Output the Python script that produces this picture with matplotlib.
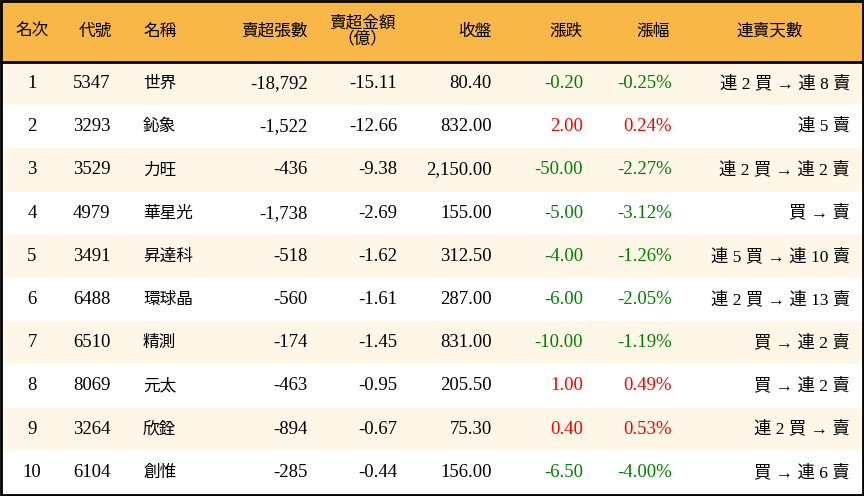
import matplotlib.pyplot as plt
from matplotlib.patches import Rectangle

rank = [1, 2, 3, 4, 5, 6, 7, 8, 9, 10]
codes = ["5347", "3293", "3529", "4979", "3491", "6488", "6510", "8069", "3264", "6104"]
names = ["世界", "鈊象", "力旺", "華星光", "昇達科", "環球晶", "精測", "元太", "欣銓", "創惟"]
net_sell = ["-18,792", "-1,522", "-436", "-1,738", "-518", "-560", "-174", "-463", "-894", "-285"]
amount = ["-15.11", "-12.66", "-9.38", "-2.69", "-1.62", "-1.61", "-1.45", "-0.95", "-0.67", "-0.44"]
close = ["80.40", "832.00", "2,150.00", "155.00", "312.50", "287.00", "831.00", "205.50", "75.30", "156.00"]
change = [-0.20, 2.00, -50.00, -5.00, -4.00, -6.00, -10.00, 1.00, 0.40, -6.50]
pct = [-0.25, 0.24, -2.27, -3.12, -1.26, -2.05, -1.19, 0.49, 0.53, -4.00]
streak = ["連 2 買 → 連 8 賣", "連 5 賣", "連 2 買 → 連 2 賣", "買 → 賣", "連 5 買 → 連 10 賣",
          "連 2 買 → 連 13 賣", "買 → 連 2 賣", "買 → 連 2 賣", "連 2 買 → 賣", "買 → 連 6 賣"]

CJK = ["Noto Sans CJK JP", "Noto Sans CJK TC", "Noto Sans CJK SC", "DejaVu Sans"]
NUM = "Liberation Serif"
MIX = [NUM] + CJK

fig = plt.figure(figsize=(8.64, 4.96), dpi=100)
ax = fig.add_axes([0, 0, 1, 1])
ax.set_xlim(0, 864)
ax.set_ylim(496, 0)
ax.axis("off")

head_h = 62
row_h = (494 - head_h) / 10
ax.add_patch(Rectangle((0, 0), 864, head_h, color="#F8B746", zorder=0))
for i in range(10):
    c = "#FEF6E6" if i % 2 == 0 else "white"
    ax.add_patch(Rectangle((0, head_h + i * row_h), 864, row_h, color=c, zorder=0))
ax.plot([0, 864], [head_h, head_h], color="black", lw=2)
ax.add_patch(Rectangle((1, 1), 862, 494, fill=False, ec="black", lw=2))

hy = head_h / 2
hs = dict(fontfamily=CJK, fontsize=12, va="center", color="black")
ax.text(32, hy, "名次", ha="center", **hs)
ax.text(95, hy, "代號", ha="center", **hs)
ax.text(143, hy, "名稱", ha="left", **hs)
ax.text(308, hy, "賣超張數", ha="right", **hs)
ax.text(362, hy, "賣超金額\n（億）", ha="center", linespacing=0.95, **hs)
ax.text(492, hy, "收盤", ha="right", **hs)
ax.text(583, hy, "漲跌", ha="right", **hs)
ax.text(670, hy, "漲幅", ha="right", **hs)
ax.text(770, hy, "連賣天數", ha="center", **hs)

for i in range(10):
    y = head_h + (i + 0.5) * row_h
    ns = dict(fontfamily=NUM, fontsize=13.5, va="center", color="black")
    col = "#008000" if change[i] < 0 else "#FF0000"
    ax.text(32, y, str(rank[i]), ha="center", **ns)
    ax.text(73, y, codes[i], ha="left", **ns)
    ax.text(143, y, names[i], ha="left", fontfamily=CJK, fontsize=12, va="center")
    ax.text(308, y, net_sell[i], ha="right", **ns)
    ax.text(397, y, amount[i], ha="right", **ns)
    ax.text(492, y, close[i], ha="right", **ns)
    ax.text(583, y, f"{change[i]:.2f}", ha="right", fontfamily=NUM, fontsize=13.5,
            va="center", color=col)
    ax.text(672, y, f"{pct[i]:.2f}%", ha="right", fontfamily=NUM, fontsize=13.5,
            va="center", color=col)
    ax.text(850, y, streak[i], ha="right", fontfamily=MIX, fontsize=12.5, va="center")

fig.savefig("out.png", dpi=100)
